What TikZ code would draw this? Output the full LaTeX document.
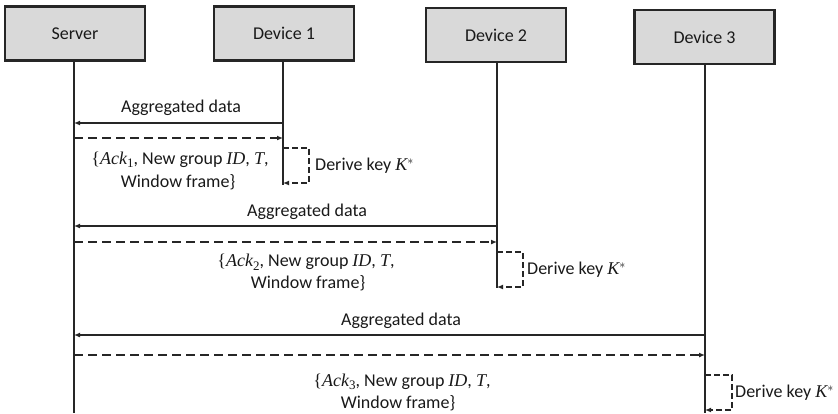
\documentclass[tikz,border=0pt]{standalone}
\usepackage{fontspec}
\setmainfont{Carlito}
\newfontfamily\mserif{Liberation Serif}
\newcommand\myit[1]{{\mserif\itshape #1}}
\newcommand\mysub[1]{\raisebox{-3.5pt}{\mserif\fontsize{13}{13}\selectfont #1}}
\newcommand\mybr[1]{{\mserif #1}}
\usetikzlibrary{arrows.meta}
\begin{document}
\begin{tikzpicture}[x=1pt,y=-1pt,
  every node/.style={font=\fontsize{18}{21}\selectfont, text=black!90},
  actor/.style={draw=black!85, line width=2.5pt, fill=black!15, minimum width=140pt, minimum height=54pt, inner sep=0pt},
  life/.style={draw=black!85, line width=1.8pt},
  msg/.style={draw=black!85, line width=1.8pt, -{Latex[length=6pt,width=5pt]}},
  reply/.style={msg, dash pattern=on 9pt off 5pt},
  loopar/.style={msg, dash pattern=on 6pt off 3pt},
  lbl/.style={inner sep=0pt, align=center}]
\useasboundingbox (0,0) rectangle (838,413);
% actors
\node[actor] (srv) at (75,33.5) {Server};
\node[actor] (d1) at (284,33.5) {Device 1};
\node[actor] (d2) at (496,35) {Device 2};
\node[actor] (d3) at (704.5,37) {Device 3};
% lifeline ends
\coordinate (srvE) at (74,413);
\coordinate (d1E) at (283,185);
\coordinate (d2E) at (497,288);
\coordinate (d3E) at (705,413);
\draw[life] (srv.south -| srvE) -- (srvE);
\draw[life] (d1.south -| d1E) -- (d1E);
\draw[life] (d2.south -| d2E) -- (d2E);
\draw[life] (d3.south -| d3E) -- (d3E);
% message points
\coordinate (a1s) at (283,123); \coordinate (a1e) at (74,123);
\coordinate (r1s) at (74,138);  \coordinate (r1e) at (283,138);
\coordinate (a2s) at (497,226); \coordinate (a2e) at (74,226);
\coordinate (r2s) at (74,242);  \coordinate (r2e) at (497,242);
\coordinate (a3s) at (705,335); \coordinate (a3e) at (74,335);
\coordinate (r3s) at (74,355);  \coordinate (r3e) at (705,355);
% round 1
\draw[msg] (a1s) -- (a1e);
\node[lbl] (l1) at (181,108) {Aggregated data};
\draw[reply] (r1s) -- (r1e);
\node[lbl] (k1a) at (180,160) {\mybr{\{}\myit{Ack}\mysub{1}, New group \myit{ID}, \myit{T},};
\node[lbl] (k1b) at (178,182) {Window frame\}};
\coordinate (p1a) at (283,148); \coordinate (p1b) at (309,148);
\coordinate (p1c) at (309,183); \coordinate (p1d) at (283,183);
\draw[loopar] (p1a) -- (p1b) -- (p1c) -- (p1d);
\node[lbl, anchor=west] (dk1) at (315,166) {Derive key \myit{K}\raisebox{6pt}{\fontsize{12}{12}\selectfont$*$}};
% round 2
\draw[msg] (a2s) -- (a2e);
\node[lbl] (l2) at (307,212) {Aggregated data};
\draw[reply] (r2s) -- (r2e);
\node[lbl] (k2a) at (306,262) {\mybr{\{}\myit{Ack}\mysub{2}, New group \myit{ID}, \myit{T},};
\node[lbl] (k2b) at (308,283) {Window frame\}};
\coordinate (p2a) at (497,252); \coordinate (p2b) at (523,252);
\coordinate (p2c) at (523,287); \coordinate (p2d) at (497,287);
\draw[loopar] (p2a) -- (p2b) -- (p2c) -- (p2d);
\node[lbl, anchor=west] (dk2) at (527,270) {Derive key \myit{K}\raisebox{6pt}{\fontsize{12}{12}\selectfont$*$}};
% round 3
\draw[msg] (a3s) -- (a3e);
\node[lbl] (l3) at (401,321) {Aggregated data};
\draw[reply] (r3s) -- (r3e);
\node[lbl] (k3a) at (402,382) {\mybr{\{}\myit{Ack}\mysub{3}, New group \myit{ID}, \myit{T},};
\node[lbl] (k3b) at (398,403) {Window frame\}};
\coordinate (p3a) at (705,375); \coordinate (p3b) at (732,375);
\coordinate (p3c) at (732,410); \coordinate (p3d) at (705,410);
\draw[loopar] (p3a) -- (p3b) -- (p3c) -- (p3d);
\node[lbl, anchor=west] (dk3) at (735,393) {Derive key \myit{K}\raisebox{6pt}{\fontsize{12}{12}\selectfont$*$}};
\end{tikzpicture}
\end{document}
